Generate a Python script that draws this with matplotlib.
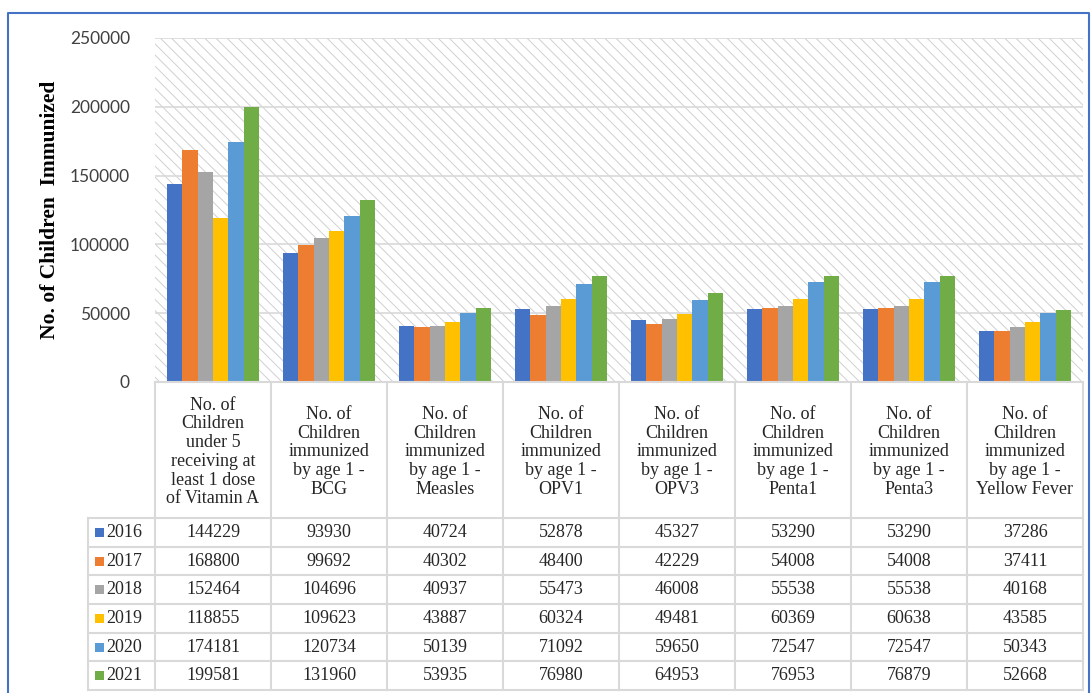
import matplotlib
matplotlib.use("Agg")
import matplotlib.pyplot as plt
from matplotlib.patches import Rectangle
import numpy as np

# ---------------- data ----------------
categories = [
    "No. of\nChildren\nunder 5\nreceiving at\nleast 1 dose\nof Vitamin A",
    "No. of\nChildren\nimmunized\nby age 1 -\nBCG",
    "No. of\nChildren\nimmunized\nby age 1 -\nMeasles",
    "No. of\nChildren\nimmunized\nby age 1 -\nOPV1",
    "No. of\nChildren\nimmunized\nby age 1 -\nOPV3",
    "No. of\nChildren\nimmunized\nby age 1 -\nPenta1",
    "No. of\nChildren\nimmunized\nby age 1 -\nPenta3",
    "No. of\nChildren\nimmunized\nby age 1 -\nYellow Fever",
]
years = ["2016", "2017", "2018", "2019", "2020", "2021"]
v2016 = [144229, 93930, 40724, 52878, 45327, 53290, 53290, 37286]
v2017 = [168800, 99692, 40302, 48400, 42229, 54008, 54008, 37411]
v2018 = [152464, 104696, 40937, 55473, 46008, 55538, 55538, 40168]
v2019 = [118855, 109623, 43887, 60324, 49481, 60369, 60638, 43585]
v2020 = [174181, 120734, 50139, 71092, 59650, 72547, 72547, 50343]
v2021 = [199581, 131960, 53935, 76980, 64953, 76953, 76879, 52668]
series = [v2016, v2017, v2018, v2019, v2020, v2021]
colors = ["#4472C4", "#ED7D31", "#A5A5A5", "#FFC000", "#5B9BD5", "#70AD47"]
yticks = [0, 50000, 100000, 150000, 200000, 250000]
ylabel = "No. of Children  Immunized"

# ---------------- layout ----------------
W, H = 1092, 693
fig = plt.figure(figsize=(W / 100, H / 100), dpi=100)
plt.rcParams["hatch.linewidth"] = 0.7

serif = "Liberation Serif"
sans = "Lato"

px_l, px_r, px_t, px_b = 155, 1083, 38, 382
ax = fig.add_axes([px_l / W, 1 - px_b / H, (px_r - px_l) / W, (px_b - px_t) / H])
n = len(categories)
ax.set_xlim(-0.5, n - 0.5)
ax.set_ylim(0, 250000)

# hatched background
ax.add_patch(Rectangle((0, 0), 1, 1, transform=ax.transAxes, facecolor="white",
                       edgecolor="#D0D0D0", hatch="\\\\\\", linewidth=0, zorder=0))
for t in yticks[1:]:
    ax.axhline(t, color="#D9D9D9", lw=1.2, zorder=1)

bw = 0.8 / len(series)
x = np.arange(n)
for i, (vals, c) in enumerate(zip(series, colors)):
    ax.bar(x - 0.4 + bw * (i + 0.5), vals, width=bw, color=c, zorder=3)

ax.set_yticks(yticks)
ax.set_yticklabels([str(t) for t in yticks], fontfamily=sans, fontsize=12.5, color="#404040")
ax.tick_params(axis="y", length=0, pad=18)
ax.set_xticks([])
for s in ax.spines.values():
    s.set_visible(False)
fig.text(50 / W, 1 - 210 / H, ylabel, rotation=90, ha="center", va="center",
         fontfamily=serif, fontweight="bold", fontsize=15.5)

# ---------------- table ----------------
tab = fig.add_axes([0, 0, 1, 1])
tab.set_xlim(0, W)
tab.set_ylim(H, 0)
tab.axis("off")
tab.patch.set_alpha(0)

gc = "#D9D9D9"
col_w = (px_r - px_l) / n
leg_l = 88
hdr_b = 518
row_h = (690 - hdr_b) / len(years)
# header row
tab.plot([px_l, px_r], [px_b, px_b], color=gc, lw=1.5)
for j in range(n + 1):
    xx = px_l + j * col_w
    tab.plot([xx, xx], [px_b, 690], color=gc, lw=1.5)
tab.plot([leg_l, leg_l], [hdr_b, 690], color=gc, lw=1.5)
for r in range(len(years) + 1):
    yy = hdr_b + r * row_h
    tab.plot([leg_l, px_r], [yy, yy], color=gc, lw=1.5)
for j, cat in enumerate(categories):
    tab.text(px_l + (j + 0.5) * col_w, (px_b + hdr_b) / 2 + 2, cat, ha="center", va="center",
             fontfamily=serif, fontsize=13, linespacing=1.13, color="#262626")
for r, (yr, vals, c) in enumerate(zip(years, series, colors)):
    yc = hdr_b + (r + 0.5) * row_h
    tab.add_patch(Rectangle((95, yc - 4.5), 9, 9, facecolor=c, edgecolor="none"))
    tab.text(106, yc, yr, ha="left", va="center", fontfamily=serif, fontsize=13, color="#262626")
    for j, v in enumerate(vals):
        tab.text(px_l + (j + 0.5) * col_w, yc, str(v), ha="center", va="center",
                 fontfamily=serif, fontsize=13, color="#262626")

# outer border
tab.plot([8, 8, 1089, 1089], [700, 13, 13, 700], color="#4472C4", lw=1.5, clip_on=False)

fig.savefig("out.png", dpi=100)
